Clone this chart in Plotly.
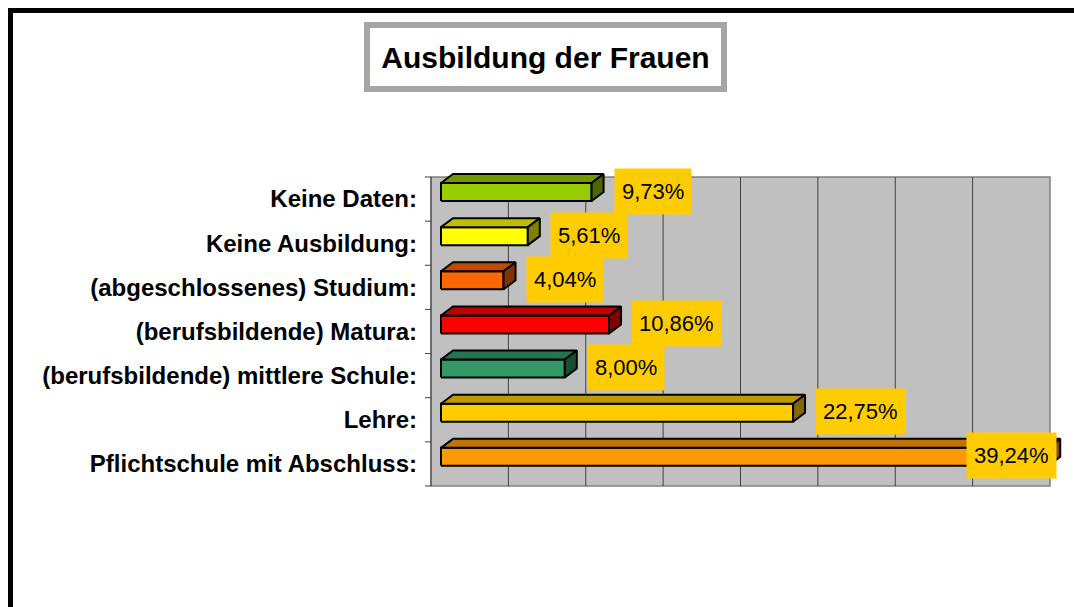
import plotly.graph_objects as go

# ---------------- data ----------------
categories = [
    "Keine Daten:",
    "Keine Ausbildung:",
    "(abgeschlossenes) Studium:",
    "(berufsbildende) Matura:",
    "(berufsbildende) mittlere Schule:",
    "Lehre:",
    "Pflichtschule mit Abschluss:",
]
values = [9.73, 5.61, 4.04, 10.86, 8.00, 22.75, 39.24]
value_labels = ["9,73%", "5,61%", "4,04%", "10,86%", "8,00%", "22,75%", "39,24%"]
grid_ticks = [5, 10, 15, 20, 25, 30, 35]
axis_max = 40

front_colors = ["#99CC00", "#FFFF00", "#FF6600", "#FF0000", "#339966", "#FFCC00", "#FF9900"]
top_colors = ["#739900", "#BFBF00", "#BF4C00", "#BF0000", "#267350", "#BF9900", "#BF7300"]
side_colors = ["#4D6600", "#808000", "#803300", "#800000", "#1A4D33", "#806600", "#804D00"]

# ---------------- layout geometry ----------------
W, H = 1074, 607
L, R, T, B = 420, 4, 160, 115
PW, PH = W - L - R, H - T - B
WALL_L, WALL_R, WALL_T, WALL_B = 431, 1050, 177, 486
n = len(categories)
px_x = (WALL_R - WALL_L) / axis_max
px_y = (WALL_B - WALL_T) / n


def dx(p):
    return p / px_x


def dy(p):
    return p / px_y


def paper_x(p):
    return (p - L) / PW


def paper_y(p):
    return (H - B - p) / PH


x_range = [(L - WALL_L) / px_x, (W - R - WALL_L) / px_x]
y_range = [n - 0.5 - (H - B - WALL_T) / px_y, n - 0.5 + (WALL_T - T) / px_y]

FRONT0 = dx(10)
DX, DY = dx(12), dy(9)

fig = go.Figure()

annotations = []
for k, (cat, v, lab) in enumerate(zip(categories, values, value_labels)):
    i = n - 1 - k
    x0 = FRONT0
    x1 = FRONT0 + v
    yt = i + 0.5 - dy(6)
    yb = i + 0.5 - dy(24)
    polys = [
        ([x0, x1, x1, x0, x0], [yb, yb, yt, yt, yb], front_colors[k]),
        ([x0, x1, x1 + DX, x0 + DX, x0], [yt, yt, yt + DY, yt + DY, yt], top_colors[k]),
        ([x1, x1 + DX, x1 + DX, x1, x1], [yb, yb + DY, yt + DY, yt, yb], side_colors[k]),
    ]
    for xs, ys, col in polys:
        fig.add_trace(go.Scatter(
            x=xs, y=ys, mode="lines", fill="toself", fillcolor=col,
            line=dict(color="black", width=2), hoverinfo="skip", showlegend=False,
        ))
    if v > axis_max - 5:
        ax, anchor = x1 + dx(9), "right"
    else:
        ax, anchor = x1 + dx(22), "left"
    annotations.append(dict(
        x=ax, y=i + dy(8), xref="x", yref="y", text=lab, showarrow=False,
        xanchor=anchor, yanchor="middle",
        font=dict(family="Liberation Sans, Arial, sans-serif", size=22, color="black"),
        bgcolor="#FFCC00", borderpad=7, height=31,
    ))

shapes = []
# back wall
shapes.append(dict(type="rect", xref="x", yref="y", x0=0, x1=axis_max, y0=-0.5, y1=n - 0.5,
                   fillcolor="#C0C0C0", line=dict(color="#808080", width=1.5), layer="below"))
for g in grid_ticks:
    shapes.append(dict(type="line", xref="x", yref="y", x0=g, x1=g, y0=-0.5, y1=n - 0.5,
                       line=dict(color="#404040", width=1), layer="below"))
# category axis line and ticks
shapes.append(dict(type="line", xref="x", yref="y", x0=0, x1=0, y0=-0.5, y1=n - 0.5,
                   line=dict(color="#404040", width=1), layer="below"))
for b in range(n + 1):
    yb_ = b - 0.5
    shapes.append(dict(type="line", xref="x", yref="y", x0=-dx(6), x1=0, y0=yb_, y1=yb_,
                       line=dict(color="#404040", width=1), layer="below"))
# title box
shapes.append(dict(type="rect", xref="paper", yref="paper",
                   x0=paper_x(367), x1=paper_x(724), y0=paper_y(25), y1=paper_y(89),
                   fillcolor="white", line=dict(color="#A6A6A6", width=6), layer="below"))
# outer chart border
shapes.append(dict(type="rect", xref="paper", yref="paper",
                   x0=paper_x(10.5), x1=paper_x(W + 40), y0=paper_y(10.5), y1=paper_y(H + 40),
                   line=dict(color="black", width=5), layer="above"))

fig.update_layout(
    width=W, height=H,
    margin=dict(l=L, r=R, t=T, b=B),
    paper_bgcolor="white", plot_bgcolor="white",
    title=dict(text="Ausbildung der Frauen", x=545.5 / W, y=1 - 57 / H,
               xref="container", yref="container", xanchor="center", yanchor="middle",
               font=dict(family="Liberation Sans, Arial, sans-serif", size=30,
                         color="black", weight="bold")),
    xaxis=dict(range=x_range, showgrid=False, zeroline=False, showticklabels=False,
               showline=False, ticks="", fixedrange=True),
    yaxis=dict(range=y_range, showgrid=False, zeroline=False, showline=False,
               tickmode="array", tickvals=list(range(n)), ticktext=categories[::-1],
               ticks="", ticklabelstandoff=2,
               tickfont=dict(family="Liberation Sans, Arial, sans-serif", size=24,
                             color="black", weight="bold"), fixedrange=True),
    shapes=shapes,
    annotations=annotations,
)

fig.write_html("out.html", config={"displayModeBar": False},
               post_script="document.body.style.margin='0';")
